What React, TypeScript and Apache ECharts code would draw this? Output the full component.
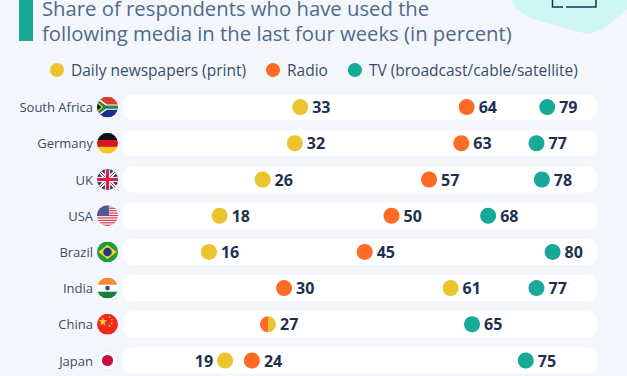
import React, { useEffect, useRef } from "react";
import * as echarts from "echarts";

const countries = ["South Africa", "Germany", "UK", "USA", "Brazil", "India", "China", "Japan"];
const newspapers = [33, 32, 26, 18, 16, 61, 27, 19];
const radio = [64, 63, 57, 50, 45, 30, 27, 24];
const tv = [79, 77, 78, 68, 80, 77, 65, 75];
const trackEnd = 88.27;
const titleLines = ["Share of respondents who have used the", "following media in the last four weeks (in percent)"];

const C_PRINT = "#ecc52e";
const C_RADIO = "#fd6b25";
const C_TV = "#18a999";
const C_BG = "#f3f7fb";
const C_LABEL = "#1e3050";

const LEFT_HALF = "path://M50 0A50 50 0 0 0 50 100ZM100 0L100 100Z";
const RIGHT_HALF = "path://M50 0A50 50 0 0 1 50 100ZM0 0L0 100Z";

function svg(body: string) {
  const s = `<svg xmlns="http://www.w3.org/2000/svg" width="64" height="64" viewBox="0 0 64 64"><defs><clipPath id="c"><circle cx="32" cy="32" r="32"/></clipPath></defs><g clip-path="url(#c)">${body}</g></svg>`;
  return "data:image/svg+xml;charset=utf-8," + encodeURIComponent(s);
}
const r = (x: number, y: number, w: number, h: number, f: string) => `<rect x="${x}" y="${y}" width="${w}" height="${h}" fill="${f}"/>`;

const flags: string[] = [
  svg(r(0, 0, 64, 32, "#de3b2e") + r(0, 32, 64, 32, "#1a2f8c") +
    `<path d="M0 2L30 24H64V40H30L0 62Z" fill="#fff"/><path d="M0 8L27 27H64V37H27L0 56Z" fill="#1d8a4a"/><path d="M0 15L19 32L0 49Z" fill="#f3c22c"/><path d="M0 20L13 32L0 44Z" fill="#111"/>`),
  svg(r(0, 0, 64, 22, "#111") + r(0, 22, 64, 21, "#d8141c") + r(0, 43, 64, 21, "#f8c51c")),
  svg(r(0, 0, 64, 64, "#24397f") +
    `<path d="M0 0L64 64M64 0L0 64" stroke="#fff" stroke-width="11"/><path d="M0 0L64 64M64 0L0 64" stroke="#d4213d" stroke-width="3"/>` +
    r(24, 0, 16, 64, "#fff") + r(0, 24, 64, 16, "#fff") + r(27, 0, 10, 64, "#d4213d") + r(0, 27, 64, 10, "#d4213d")),
  svg(r(0, 0, 64, 64, "#fff") + [0, 1, 2, 3, 4, 5, 6, 7, 8].map((i) => r(0, i * 7.4, 64, 3.7, "#d23a4e")).join("") + r(0, 0, 36, 33, "#4a5a9c")),
  svg(r(0, 0, 64, 64, "#1f9a45") + `<path d="M32 10L60 32L32 54L4 32Z" fill="#f5d11f"/><circle cx="32" cy="32" r="13" fill="#1e3a82"/>`),
  svg(r(0, 0, 64, 22, "#f58a32") + r(0, 22, 64, 21, "#fff") + r(0, 43, 64, 21, "#19803a") + `<circle cx="32" cy="32" r="7" fill="#39408f"/>`),
  svg(r(0, 0, 64, 64, "#ee2a1f") + `<path d="M18 10L21 20L31 20L23 26L26 36L18 30L10 36L13 26L5 20L15 20Z" fill="#f8d92a"/><circle cx="38" cy="10" r="2.5" fill="#f8d92a"/><circle cx="45" cy="18" r="2.5" fill="#f8d92a"/><circle cx="45" cy="29" r="2.5" fill="#f8d92a"/><circle cx="38" cy="37" r="2.5" fill="#f8d92a"/>`),
  svg(r(0, 0, 64, 64, "#fff") + `<circle cx="32" cy="32" r="30.5" fill="none" stroke="#dde1e8" stroke-width="3"/><circle cx="32" cy="32" r="17" fill="#c3103c"/>`),
];

const GRID_TOP = 89;
const ROW = 36.2;

export default function App() {
  const ref = useRef<HTMLDivElement>(null);
  useEffect(() => {
    const chart = echarts.init(ref.current!, undefined, { renderer: "svg" });
    const font = "'Open Sans', sans-serif";
    const valueLabel = (position: string) => ({
      show: true,
      position,
      distance: 4,
      formatter: (p: any) => String(p.value[0]),
      color: C_LABEL,
      fontFamily: font,
      fontWeight: 700,
      fontSize: 16,
    });
    const pts = (vals: number[]) => vals.map((v, i) => [v, countries[i]]);
    const series: any[] = [
      {
        type: "bar",
        data: countries.map(() => trackEnd),
        barWidth: 26,
        itemStyle: { color: "#ffffff", borderRadius: 9 },
        silent: true,
        z: 1,
      },
      {
        name: "Daily newspapers (print)",
        type: "scatter",
        symbolSize: 16,
        itemStyle: { color: C_PRINT, opacity: 1 },
        label: valueLabel("right"),
        z: 3,
        data: pts(newspapers).map((d, i) => {
          if (countries[i] === "Japan") return { value: d, label: valueLabel("left") };
          if (countries[i] === "China") return { value: d, symbol: RIGHT_HALF };
          return { value: d };
        }),
      },
      {
        name: "Radio",
        type: "scatter",
        symbolSize: 16,
        itemStyle: { color: C_RADIO, opacity: 1 },
        label: valueLabel("right"),
        z: 3,
        data: pts(radio).map((d, i) =>
          countries[i] === "China"
            ? { value: d, symbol: LEFT_HALF, label: { show: false } }
            : { value: d }
        ),
      },
      {
        name: "TV (broadcast/cable/satellite)",
        type: "scatter",
        symbolSize: 16,
        itemStyle: { color: C_TV, opacity: 1 },
        label: valueLabel("right"),
        z: 3,
        data: pts(tv),
      },
    ];
    const flagImages = flags.map((image, i) => ({
      type: "image",
      style: { image, x: 97, y: GRID_TOP + ROW * i + ROW / 2 - 10.5, width: 21, height: 21 },
      z: 5,
    }));
    chart.setOption({
      animation: false,
      backgroundColor: C_BG,
      grid: { left: 123, top: GRID_TOP, width: 474, height: ROW * countries.length },
      xAxis: { type: "value", min: 0, max: trackEnd, show: false },
      yAxis: {
        type: "category",
        data: countries,
        inverse: true,
        axisLine: { show: false },
        axisTick: { show: false },
        axisLabel: { color: "#3a4c68", fontFamily: font, fontSize: 13, margin: 30 },
      },
      legend: {
        top: 62,
        left: 50,
        icon: "circle",
        itemWidth: 14,
        itemHeight: 14,
        itemGap: 20,
        padding: 0,
        textStyle: { color: "#3a4c68", fontFamily: font, fontSize: 15.5, padding: [0, 0, 0, 2] },
        data: ["Daily newspapers (print)", "Radio", "TV (broadcast/cable/satellite)"],
      },
      series,
      graphic: [
        {
          type: "polygon",
          shape: { points: [[512, 0], [516, 9], [533, 19], [588, 34], [603, 29], [627, 9], [627, 0]], smooth: 0.1 },
          style: { fill: "#cff6f3" },
          z: 0,
        },
        {
          type: "polyline",
          shape: { points: [[552.5, 0], [552.5, 7], [563, 7]] },
          style: { stroke: "#1e3050", lineWidth: 1.5, fill: "none" },
        },
        {
          type: "polyline",
          shape: { points: [[566, 7], [596, 7], [596, 0]] },
          style: { stroke: "#1e3050", lineWidth: 1.5, fill: "none" },
        },
        { type: "rect", shape: { x: 19, y: 0, width: 14, height: 41 }, style: { fill: C_TV } },
        ...titleLines.map((text, i) => ({
          type: "text",
          x: 42,
          y: 8 + i * 25,
          style: { text, fontFamily: font, fontSize: 20.3, lineHeight: 24, fill: "#4f6a8c", verticalAlign: "middle" },
        })),
        ...flagImages,
      ],
    });
    return () => chart.dispose();
  }, []);
  return <div ref={ref} style={{ position: "fixed", left: 0, top: 0, width: 627, height: 382 }} />;
}
